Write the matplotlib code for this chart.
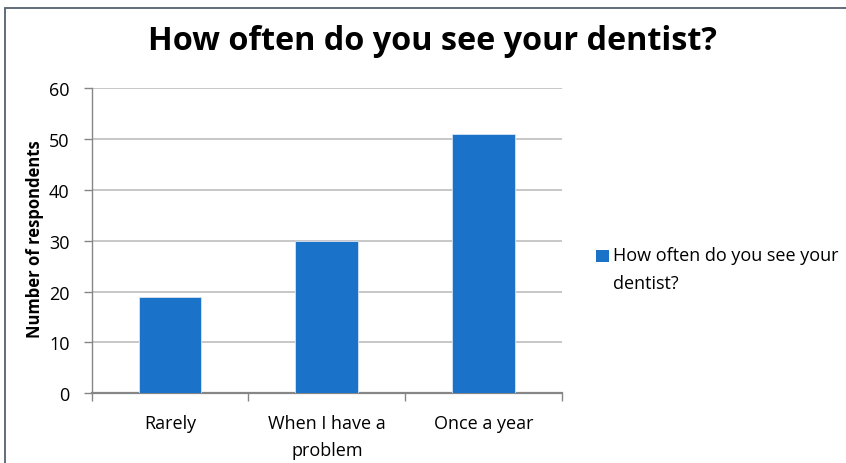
import matplotlib
matplotlib.use("Agg")
import matplotlib.pyplot as plt
from matplotlib.patches import Rectangle

categories = ["Rarely", "When I have a\nproblem", "Once a year"]
values = [19, 30, 51]
yticks = [0, 10, 20, 30, 40, 50, 60]
title = "How often do you see your dentist?"
ylabel = "Number of respondents"
legend_lines = ["How often do you see your", "dentist?"]

plt.rcParams['font.family'] = ['Open Sans', 'DejaVu Sans']

fig = plt.figure(figsize=(8.46, 4.64), dpi=100)
W, H = 846, 464

# outer chart border (cropped at right/bottom)
fig.patches.append(Rectangle((5 / W, -0.1), 1.2, (H - 9) / H + 0.1,
                             transform=fig.transFigure, fill=False,
                             edgecolor='#56606E', linewidth=1.3))

ax = fig.add_axes([91.7 / W, (H - 394.3) / H, (562 - 91.7) / W, (394.3 - 89.3) / H])
xpos = list(range(len(categories)))
ax.bar(xpos, values, width=0.4, color='#1A73C8', edgecolor='#D6E4F5', linewidth=0.6, zorder=3)
ax.set_xlim(-0.5, 2.5)
ax.set_ylim(0, 60)
ax.set_yticks(yticks)
ax.yaxis.grid(True, color='#BDBDBD', linewidth=1.2, zorder=0)
ax.set_axisbelow(True)

ax.set_xticks([-0.5, 0.5, 1.5, 2.5])
ax.set_xticklabels([])
ax.set_xticks(xpos, minor=True)
ax.set_xticklabels(categories, minor=True, fontsize=13, linespacing=1.65)
ax.tick_params(axis='x', which='minor', length=0, pad=15)
ax.tick_params(axis='x', which='major', length=6, color='#868686', width=1)
ax.tick_params(axis='y', length=6, color='#868686', width=1, labelsize=13, pad=10)

for s in ['top', 'right']:
    ax.spines[s].set_visible(False)
ax.spines['left'].set_color('#868686')
ax.spines['bottom'].set_color('#868686')
ax.spines['bottom'].set_linewidth(1.6)
ax.spines['left'].set_linewidth(1.0)

fig.text(35 / W, (H - 239) / H, ylabel, rotation=90, ha='center', va='center',
         fontsize=12, fontweight='bold')
fig.text(432 / W, (H - 41) / H, title, ha='center', va='center',
         fontsize=23.3, fontweight='bold')

fig.patches.append(Rectangle((596 / W, (H - 263) / H), 13 / W, 12.5 / H,
                             transform=fig.transFigure, facecolor='#1A73C8',
                             edgecolor='none'))
for i, line in enumerate(legend_lines):
    fig.text(613 / W, (H - 256 - 28 * i) / H, line, ha='left', va='center',
             fontsize=13)

fig.savefig("out.png", dpi=100)
